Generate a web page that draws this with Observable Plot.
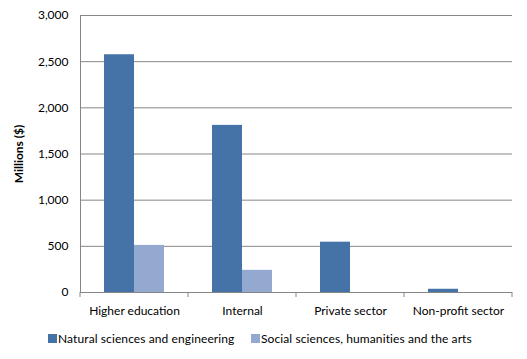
<!DOCTYPE html>
<html>
<head>
<meta charset="utf-8">
<script src="https://cdn.jsdelivr.net/npm/d3@7"></script>
<script src="https://cdn.jsdelivr.net/npm/@observablehq/plot@0.6"></script>
<style>
  body { margin: 0; background: #fff; font-family: Lato, "Open Sans", sans-serif; }
  #wrap { position: relative; width: 527px; height: 359px; }
  g[aria-label="y-axis label"] text { font-weight: bold; }
  .legend { position: absolute; top: 331px; left: 0; width: 527px; height: 20px; font-size: 12px; color: #000; }
  .legend .sw { position: absolute; top: 3px; width: 9px; height: 9px; }
  .legend .lb { position: absolute; top: 0px; white-space: nowrap; letter-spacing: 0.1px; }
</style>
</head>
<body>
<div id="wrap"></div>
<script>
const categories = ["Higher education", "Internal", "Private sector", "Non-profit sector"];
const series = ["Natural sciences and engineering", "Social sciences, humanities and the arts"];
const naturalSciences = [2575, 1810, 545, 35];
const socialSciences = [510, 240, 0, 0];
const yTicks = [0, 500, 1000, 1500, 2000, 2500, 3000];
const colors = ["#4572A7", "#93A9CF"];

const data = [];
categories.forEach((c, i) => {
  data.push({category: c, series: series[0], value: naturalSciences[i]});
  data.push({category: c, series: series[1], value: socialSciences[i]});
});

const axisColor = "#868686";

const chart = Plot.plot({
  width: 527,
  height: 325,
  marginLeft: 79,
  marginRight: 14,
  marginTop: 15,
  marginBottom: 33,
  style: {fontFamily: "Lato, 'Open Sans', sans-serif", fontSize: "12px", color: "#000", background: "#fff"},
  fx: {domain: categories, padding: 0, label: null},
  x: {domain: series, paddingInner: 0, paddingOuter: 0.75, axis: null},
  y: {domain: [0, 3000]},
  color: {domain: series, range: colors},
  marks: [
    Plot.gridY(yTicks, {stroke: axisColor, strokeOpacity: 1}),
    Plot.barY(data, {fx: "category", x: "series", y: "value", fill: "series"}),
    Plot.ruleY([0], {stroke: axisColor}),
    Plot.axisY(yTicks, {tickSize: 0, tickPadding: 12, tickFormat: d3.format(",.0f"), label: "Millions ($)", labelAnchor: "center", labelArrow: "none", labelOffset: 66}),
    Plot.axisFx({anchor: "bottom", tickSize: 0, tickPadding: 14, label: null}),
    Plot.frame({anchor: "left", facetAnchor: "left", stroke: axisColor})
  ]
});

// category boundary tick marks from the fx scale
const fx = chart.scale("fx");
const yS = chart.scale("y");
const bounds = categories.map(c => fx.apply(c));
bounds.push(fx.apply(categories[categories.length - 1]) + fx.bandwidth);
const y0 = yS.apply(0);
d3.select(chart).append("g")
  .attr("stroke", axisColor)
  .selectAll("line")
  .data(bounds)
  .join("line")
  .attr("x1", d => d).attr("x2", d => d)
  .attr("y1", y0).attr("y2", y0 + 5);

const wrap = document.getElementById("wrap");
wrap.appendChild(chart);

const legend = document.createElement("div");
legend.className = "legend";
const legendX = [48, 251];
series.forEach((s, i) => {
  const sw = document.createElement("div");
  sw.className = "sw";
  sw.style.left = legendX[i] + "px";
  sw.style.background = colors[i];
  const lb = document.createElement("div");
  lb.className = "lb";
  lb.style.left = (legendX[i] + 10) + "px";
  lb.textContent = s;
  legend.appendChild(sw);
  legend.appendChild(lb);
});
wrap.appendChild(legend);
</script>
</body>
</html>
